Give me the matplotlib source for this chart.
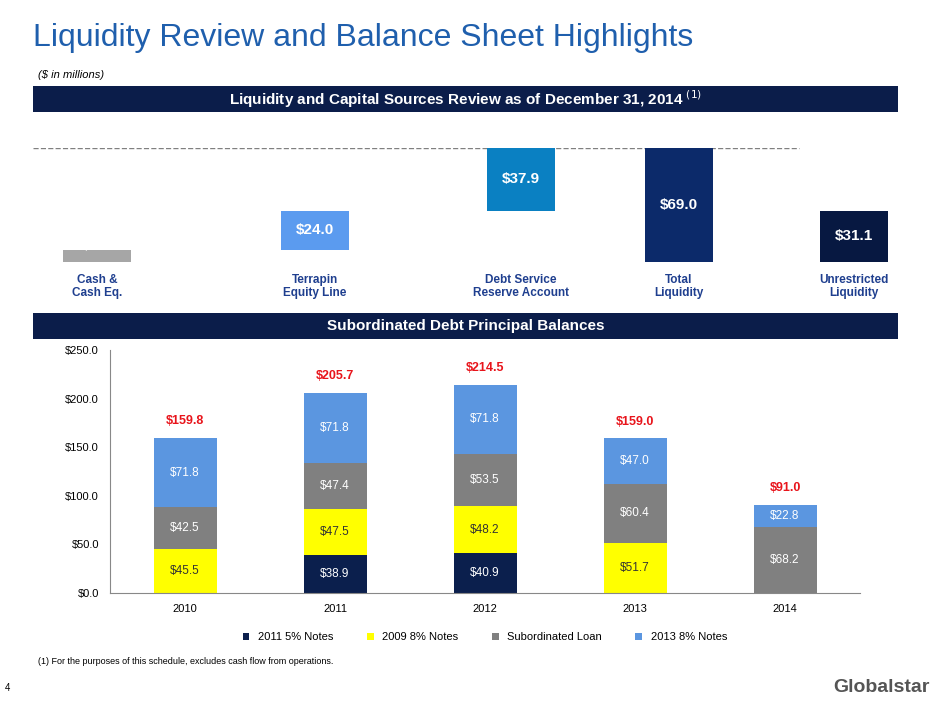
import matplotlib
matplotlib.use("Agg")
import matplotlib.pyplot as plt
import numpy as np

plt.rcParams['font.family'] = ['Liberation Sans', 'DejaVu Sans']

# top waterfall data
liq_labels = ["Cash &\nCash Eq.", "Terrapin\nEquity Line", "Debt Service\nReserve Account",
              "Total\nLiquidity", "Unrestricted\nLiquidity"]
liq_values = [7.1, 24.0, 37.9, 69.0, 31.1]
liq_bottoms = [0.0, 7.1, 31.1, 0.0, 0.0]
liq_colors = ["#A6A6A6", "#5B9BEF", "#0A80C2", "#0C2A6A", "#071841"]

# bottom stacked data
years = ["2010", "2011", "2012", "2013", "2014"]
notes_2011 = [0.0, 38.9, 40.9, 0.0, 0.0]
notes_2009 = [45.5, 47.5, 48.2, 51.7, 0.0]
sub_loan = [42.5, 47.4, 53.5, 60.4, 68.2]
notes_2013 = [71.8, 71.8, 71.8, 47.0, 22.8]
totals = ["$159.8", "$205.7", "$214.5", "$159.0", "$91.0"]

navy = "#0B1D4A"
W, H = 940, 705
fig = plt.figure(figsize=(9.4, 7.05), dpi=100)

def fx(px): return px / W
def fy(py): return 1 - py / H

fig.text(fx(33), fy(38), "Liquidity Review and Balance Sheet Highlights", fontsize=23,
         color="#1F5FAD", va="center")
fig.text(fx(38), fy(75), "($ in millions)", fontsize=8, style="italic", va="center")

def banner(y0, y1, text):
    ax = fig.add_axes([fx(33), fy(y1), fx(898 - 33), (y1 - y0) / H])
    ax.set_facecolor(navy)
    ax.set_xticks([]); ax.set_yticks([])
    for s in ax.spines.values():
        s.set_visible(False)
    ax.text(0.5, 0.5, text, color="white", fontsize=11, weight="bold",
            ha="center", va="center", transform=ax.transAxes)

banner(86, 112, r"Liquidity and Capital Sources Review as of December 31, 2014 $^{(1)}$")
banner(313, 339, "Subordinated Debt Principal Balances")

# waterfall
ax1 = fig.add_axes([fx(33), fy(262), fx(898 - 33), (262 - 148) / H])
xpos = np.array([63, 281, 487, 645, 820]) - 33  # pixel centres relative to axes
xpos = (xpos + 34) / 865.0
ax1.bar(xpos, liq_values, bottom=liq_bottoms, color=liq_colors, width=0.079)
for i, (v, b) in enumerate(zip(liq_values, liq_bottoms)):
    yt = b + v / 2 if v > 10 else b + v + 2.5
    ax1.text(xpos[i], max(yt, b + 4.5) if v <= 10 else yt, f"${v:.1f}", color="white" if v > 10 else "#FFFFFF",
             fontsize=11, weight="bold", ha="center", va="center",
             bbox=None)
ax1.axhline(69.0, xmax=0.885, color="#808080", ls="--", lw=1, zorder=0)
ax1.set_xlim(0, 1)
ax1.set_ylim(0, 69)
ax1.axis("off")
for i, lab in enumerate(liq_labels):
    ax1.text(xpos[i], -7, lab, color="#1F3F8F", fontsize=8.5, weight="bold",
             ha="center", va="top")

# stacked
ax2 = fig.add_axes([fx(110), fy(593), fx(860 - 110), (593 - 350) / H])
xs = np.arange(len(years))
series = [(notes_2011, "#0B1F4D", "2011 5% Notes", "white"),
          (notes_2009, "#FFFF00", "2009 8% Notes", "#333333"),
          (sub_loan, "#808080", "Subordinated Loan", "white"),
          (notes_2013, "#5B96E0", "2013 8% Notes", "white")]
bottom = np.zeros(len(years))
for vals, col, lab, tcol in series:
    vals = np.array(vals)
    ax2.bar(xs, vals, bottom=bottom, color=col, width=0.42, label=lab)
    for i, v in enumerate(vals):
        if v > 0:
            ax2.text(i, bottom[i] + v / 2, f"${v:.1f}", color=tcol, fontsize=8.5,
                     ha="center", va="center")
    bottom += vals
for i, t in enumerate(totals):
    ax2.text(i, bottom[i] + 11, t, color="#E8141B", fontsize=9, weight="bold",
             ha="center", va="bottom")
ax2.set_ylim(0, 250)
ax2.set_xlim(-0.5, 4.5)
ax2.set_yticks(np.arange(0, 251, 50))
ax2.set_yticklabels([f"${v:.1f}" for v in np.arange(0, 251, 50)], fontsize=8)
ax2.set_xticks(xs)
ax2.set_xticklabels(years, fontsize=8)
ax2.tick_params(length=0, pad=8)
for s in ["top", "right"]:
    ax2.spines[s].set_visible(False)
ax2.spines["left"].set_color("#888888")
ax2.spines["bottom"].set_color("#888888")
ax2.legend(loc="upper center", bbox_to_anchor=(0.5, -0.12), ncol=4, frameon=False,
           fontsize=8, handlelength=0.6, handleheight=0.6, columnspacing=3)

fig.text(fx(38), fy(661), "(1) For the purposes of this schedule, excludes cash flow from operations.",
         fontsize=6.5, va="center")
fig.text(fx(5), fy(688), "4", fontsize=7, va="center")
fig.text(fx(930), fy(688), "Globalstar", fontsize=14, weight="bold", color="#555555",
         ha="right", va="center")

fig.savefig("out.png", dpi=100)
